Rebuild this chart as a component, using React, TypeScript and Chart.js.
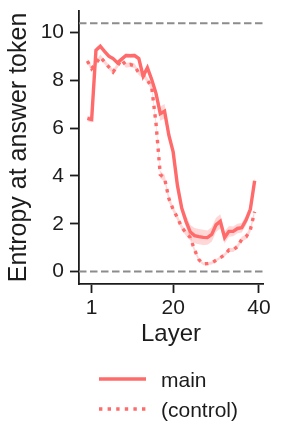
import React, { useEffect, useRef } from 'react';
import { Chart, registerables } from 'chart.js';

Chart.register(...registerables);

// ---- data ----
const LAYERS = [0, 1, 2, 3, 4, 5, 6, 7, 8, 9, 10, 11, 12, 13, 14, 15, 16, 17, 18, 19, 20, 21, 22, 23, 24, 25, 26, 27, 28, 29, 30, 31, 32, 33, 34, 35, 36, 37, 38, 39];
const MAIN = [6.4, 6.35, 9.25, 9.42, 9.2, 9.0, 8.9, 8.73, 8.88, 9.03, 9.02, 9.03, 8.9, 8.17, 8.52, 8.03, 7.45, 6.6, 6.7, 5.7, 5.0, 3.6, 2.65, 2.1, 1.65, 1.5, 1.46, 1.43, 1.42, 1.55, 1.95, 2.1, 1.42, 1.68, 1.68, 1.8, 1.83, 2.15, 2.6, 3.8];
const MAIN_ERR = [0.12, 0.12, 0.1, 0.08, 0.08, 0.08, 0.08, 0.08, 0.08, 0.08, 0.08, 0.08, 0.1, 0.1, 0.12, 0.15, 0.2, 0.3, 0.3, 0.2, 0.15, 0.15, 0.2, 0.25, 0.3, 0.32, 0.32, 0.32, 0.3, 0.3, 0.3, 0.3, 0.25, 0.22, 0.2, 0.2, 0.2, 0.2, 0.2, 0.15];
const CONTROL = [8.8, 8.48, 8.7, 8.97, 8.76, 8.55, 8.34, 8.6, 8.85, 8.62, 8.65, 8.6, 8.3, 8.2, 8.0, 7.7, 6.2, 4.05, 3.9, 3.05, 2.6, 2.25, 1.85, 1.62, 1.42, 0.9, 0.5, 0.32, 0.33, 0.36, 0.47, 0.58, 0.7, 0.9, 0.9, 1.05, 1.35, 1.45, 1.75, 2.5];
const CONTROL_ERR = [0.1, 0.1, 0.1, 0.1, 0.1, 0.1, 0.1, 0.1, 0.1, 0.1, 0.1, 0.1, 0.1, 0.1, 0.1, 0.12, 0.15, 0.15, 0.15, 0.15, 0.12, 0.12, 0.12, 0.12, 0.12, 0.1, 0.08, 0.06, 0.06, 0.06, 0.06, 0.06, 0.08, 0.08, 0.08, 0.1, 0.1, 0.1, 0.12, 0.15];
const REF_LINES = [10.373, 0];
const X_TICKS = [1, 20, 40];
const Y_TICKS = [0, 2, 4, 6, 8, 10];
const SERIES_LABELS = ['main', '(control)'];
const X_LABEL = 'Layer';
const Y_LABEL = 'Entropy at answer token';

const X_MIN = -1.95;
const X_MAX = 40.95;
const Y_MIN = -0.52;
const Y_MAX = 10.89;

const FONT = "'Liberation Sans', Arial, sans-serif";
const RED = '#ff6b6b';
const BAND = 'rgba(255,107,107,0.27)';
const INK = '#1c1c1c';
const GRAY = '#8c8c8c';
const LINE_W = 3.4;
const DOT = [3.4, 5.2];

const pts = (ys: number[], off: number[] = [], sign = 0) =>
  LAYERS.map((x, i) => ({ x, y: ys[i] + sign * (off[i] || 0) }));

const stackedLegend = {
  id: 'stackedLegend',
  afterDraw(chart: any, _args: any, opts: any) {
    const ctx = chart.ctx;
    const items = opts.items as { label: string; dash: number[] }[];
    ctx.save();
    items.forEach((it, i) => {
      const y = opts.top + i * opts.rowGap;
      ctx.beginPath();
      ctx.setLineDash(it.dash);
      ctx.lineCap = 'butt';
      ctx.strokeStyle = RED;
      ctx.lineWidth = LINE_W;
      ctx.moveTo(opts.left, y);
      ctx.lineTo(opts.left + opts.sample, y);
      ctx.stroke();
      ctx.setLineDash([]);
      ctx.fillStyle = INK;
      ctx.font = `${opts.fontSize}px ${FONT}`;
      ctx.textBaseline = 'alphabetic';
      ctx.textAlign = 'left';
      ctx.fillText(it.label, opts.left + opts.sample + opts.gap, y + opts.baselineShift);
    });
    ctx.restore();
  },
};

export default function App() {
  const ref = useRef<HTMLCanvasElement | null>(null);
  useEffect(() => {
    if (!ref.current) return;
    const chart = new Chart(ref.current, {
      type: 'line',
      data: {
        datasets: [
          {
            label: SERIES_LABELS[0],
            data: pts(MAIN),
            borderColor: RED,
            borderWidth: LINE_W,
            pointRadius: 0,
            fill: false,
            tension: 0,
          },
          {
            label: SERIES_LABELS[1],
            data: pts(CONTROL),
            borderColor: RED,
            borderWidth: LINE_W,
            borderDash: DOT,
            borderCapStyle: 'butt',
            pointRadius: 0,
            fill: false,
            tension: 0,
          },
          {
            label: 'main-hi',
            data: pts(MAIN, MAIN_ERR, 1),
            borderWidth: 0,
            pointRadius: 0,
            backgroundColor: BAND,
            fill: '+1',
          },
          {
            label: 'main-lo',
            data: pts(MAIN, MAIN_ERR, -1),
            borderWidth: 0,
            pointRadius: 0,
            fill: false,
          },
          {
            label: 'control-hi',
            data: pts(CONTROL, CONTROL_ERR, 1),
            borderWidth: 0,
            pointRadius: 0,
            backgroundColor: BAND,
            fill: '+1',
          },
          {
            label: 'control-lo',
            data: pts(CONTROL, CONTROL_ERR, -1),
            borderWidth: 0,
            pointRadius: 0,
            fill: false,
          },
          ...REF_LINES.map((v) => ({
            label: 'ref',
            data: [
              { x: X_MIN, y: v },
              { x: X_MAX, y: v },
            ],
            borderColor: GRAY,
            borderWidth: 2,
            borderDash: [7.5, 3.5],
            pointRadius: 0,
            fill: false,
          })),
        ] as any,
      },
      options: {
        responsive: false,
        animation: false,
        events: [],
        layout: { padding: { left: 0, right: 20, top: 11, bottom: 97 } },
        plugins: {
          legend: { display: false },
          tooltip: { enabled: false },
          stackedLegend: {
            items: [
              { label: SERIES_LABELS[0], dash: [] },
              { label: SERIES_LABELS[1], dash: DOT },
            ],
            left: 99,
            top: 379,
            rowGap: 30,
            sample: 47,
            gap: 15,
            fontSize: 21,
            baselineShift: 8,
          },
        } as any,
        scales: {
          x: {
            type: 'linear',
            min: X_MIN,
            max: X_MAX,
            afterBuildTicks: (s: any) => {
              s.ticks = X_TICKS.map((v) => ({ value: v }));
            },
            afterFit: (s: any) => {
              s.height = 62;
              s.paddingLeft = 0;
              s.paddingRight = 0;
            },
            grid: {
              drawOnChartArea: false,
              drawTicks: true,
              tickLength: 9,
              tickWidth: 1.8,
              tickColor: INK,
            },
            border: { display: true, color: INK, width: 1.8 },
            ticks: {
              color: INK,
              font: { size: 21, family: FONT, lineHeight: 1 },
              padding: 5,
              maxRotation: 0,
              autoSkip: false,
            },
            title: {
              display: true,
              text: X_LABEL,
              color: INK,
              font: { size: 24, family: FONT, lineHeight: 1 },
              padding: 0,
            },
          },
          y: {
            type: 'linear',
            min: Y_MIN,
            max: Y_MAX,
            afterBuildTicks: (s: any) => {
              s.ticks = Y_TICKS.map((v) => ({ value: v }));
            },
            afterFit: (s: any) => {
              s.width = 79;
              s.paddingTop = 0;
              s.paddingBottom = 0;
            },
            grid: {
              drawOnChartArea: false,
              drawTicks: true,
              tickLength: 9,
              tickWidth: 1.8,
              tickColor: INK,
            },
            border: { display: true, color: INK, width: 1.8 },
            ticks: {
              color: INK,
              font: { size: 21, family: FONT, lineHeight: 1 },
              padding: 6,
            },
            title: {
              display: true,
              text: Y_LABEL,
              color: INK,
              font: { size: 25, family: FONT, lineHeight: 1 },
              padding: { top: 7, bottom: 0 },
            },
          },
        },
      },
      plugins: [stackedLegend as any],
    });
    return () => chart.destroy();
  }, []);

  return (
    <div style={{ position: 'fixed', left: 0, top: 0, width: 283, height: 443, background: '#fff' }}>
      <canvas ref={ref} width={283} height={443} style={{ display: 'block', width: 283, height: 443 }} />
    </div>
  );
}
